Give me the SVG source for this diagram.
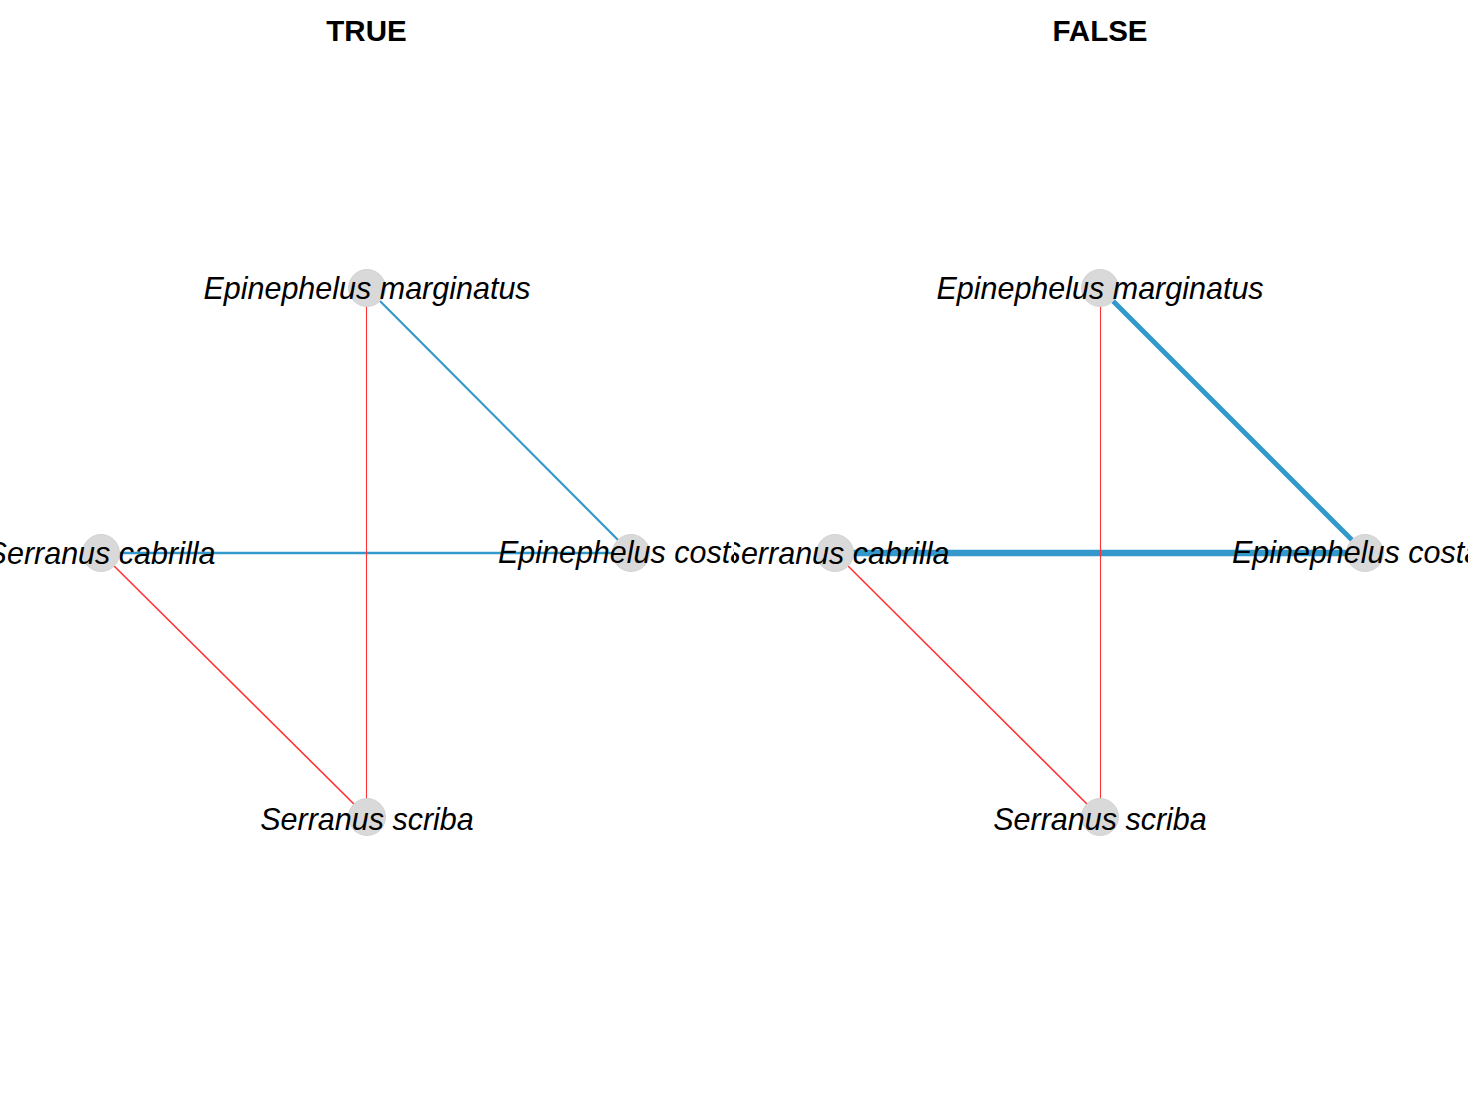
<svg xmlns="http://www.w3.org/2000/svg" width="1468" height="1107" viewBox="0 0 1468 1107">
  <style>
    .title { font-family: "Liberation Sans", Arial, sans-serif; font-weight: bold; font-size: 29.5px; fill: #000; text-anchor: middle; }
    .lbl { font-family: "Liberation Sans", Arial, sans-serif; font-style: italic; font-size: 30.5px; fill: #000; text-anchor: middle; }
    .node { fill: #d9d9d9; stroke: #d3d3d3; stroke-width: 1; }
    .pos { stroke: #3399cc; fill: none; }
    .neg { stroke: #ff3333; fill: none; }
  </style>
  <defs>
    <clipPath id="clipL"><rect x="0" y="0" width="734" height="1107"/></clipPath>
    <clipPath id="clipR"><rect x="734" y="0" width="734" height="1107"/></clipPath>
  </defs>
  <rect width="1468" height="1107" fill="#fff"/>

  <!-- Panel: TRUE -->
  <g id="panel-true" clip-path="url(#clipL)">
    <text class="title" x="366.5" y="41">TRUE</text>
    <g id="edges-true">
      <line class="pos" x1="367" y1="288" x2="631" y2="553" stroke-width="2.2"/>
      <line class="pos" x1="101" y1="553" x2="631" y2="553" stroke-width="2.6"/>
      <line class="neg" x1="101" y1="553" x2="367" y2="817" stroke-width="1.6"/>
      <line class="neg" x1="366.5" y1="288" x2="366.5" y2="817" stroke-width="1.1"/>
    </g>
    <g id="node-true-marginatus">
      <circle class="node" cx="367" cy="288" r="18.5"/>
      <text class="lbl" x="367" y="298.5">Epinephelus marginatus</text>
    </g>
    <g id="node-true-cabrilla">
      <circle class="node" cx="101" cy="553" r="18.5"/>
      <text class="lbl" x="101" y="564">Serranus cabrilla</text>
    </g>
    <g id="node-true-costae">
      <circle class="node" cx="631" cy="553" r="18.5"/>
      <text class="lbl" x="631" y="562.5">Epinephelus costae</text>
    </g>
    <g id="node-true-scriba">
      <circle class="node" cx="367" cy="817" r="18.5"/>
      <text class="lbl" x="367" y="829.5">Serranus scriba</text>
    </g>
  </g>

  <!-- Panel: FALSE -->
  <g id="panel-false" clip-path="url(#clipR)">
    <text class="title" x="1100" y="41">FALSE</text>
    <g id="edges-false">
      <line class="pos" x1="1100" y1="288" x2="1365" y2="553" stroke-width="5"/>
      <line class="pos" x1="835" y1="553" x2="1365" y2="553" stroke-width="6.5"/>
      <line class="neg" x1="835" y1="553" x2="1100" y2="817" stroke-width="1.6"/>
      <line class="neg" x1="1100.5" y1="288" x2="1100.5" y2="817" stroke-width="1.1"/>
    </g>
    <g id="node-false-marginatus">
      <circle class="node" cx="1100" cy="288" r="18.5"/>
      <text class="lbl" x="1100" y="298.5">Epinephelus marginatus</text>
    </g>
    <g id="node-false-cabrilla">
      <circle class="node" cx="835" cy="553" r="18.5"/>
      <text class="lbl" x="835" y="564">Serranus cabrilla</text>
    </g>
    <g id="node-false-costae">
      <circle class="node" cx="1365" cy="553" r="18.5"/>
      <text class="lbl" x="1365" y="562.5">Epinephelus costae</text>
    </g>
    <g id="node-false-scriba">
      <circle class="node" cx="1100" cy="817" r="18.5"/>
      <text class="lbl" x="1100" y="829.5">Serranus scriba</text>
    </g>
  </g>
</svg>
